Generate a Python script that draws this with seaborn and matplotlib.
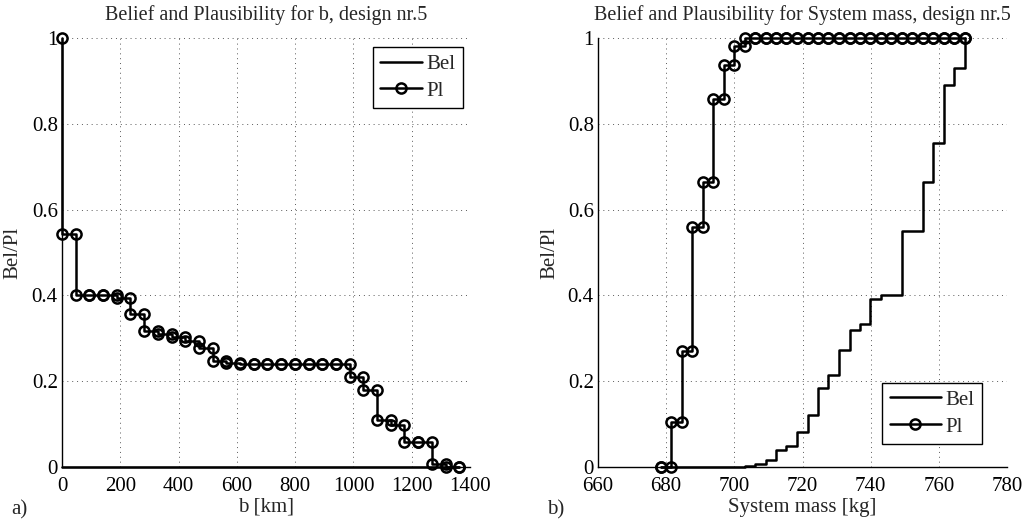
import numpy as np
import pandas as pd
import matplotlib
matplotlib.use("Agg")
import matplotlib.pyplot as plt
import seaborn as sns
from matplotlib.ticker import FormatStrFormatter

# Data: x breakpoints and the staircase levels
# (level[i] -> level[i+1] is the vertical jump at x[i])
b_km = [0, 47, 94, 141, 188, 235, 282, 329, 376, 423, 470, 517, 564, 611, 658,
        705, 752, 799, 846, 893, 940, 987, 1034, 1081, 1128, 1175, 1222, 1269,
        1316, 1362]
pl_b = [1.0, 0.542, 0.402, 0.400, 0.400, 0.394, 0.357, 0.316, 0.309, 0.304,
        0.294, 0.277, 0.246, 0.242, 0.239, 0.239, 0.239, 0.239, 0.239, 0.239,
        0.239, 0.239, 0.210, 0.180, 0.110, 0.097, 0.059, 0.059, 0.006, 0.0, 0.0]
bel_b = [0.0] * 31

mass_kg = [678.4, 681.5, 684.6, 687.6, 690.7, 693.8, 696.9, 699.9, 703.0, 706.1,
           709.2, 712.2, 715.3, 718.4, 721.5, 724.5, 727.6, 730.7, 733.8, 736.8,
           739.9, 743.0, 746.1, 749.1, 752.2, 755.3, 758.4, 761.4, 764.5, 767.6]
pl_mass = [0.0, 0.0, 0.105, 0.270, 0.560, 0.664, 0.857, 0.936, 0.982, 1.0,
           1.0, 1.0, 1.0, 1.0, 1.0, 1.0, 1.0, 1.0, 1.0, 1.0, 1.0, 1.0, 1.0,
           1.0, 1.0, 1.0, 1.0, 1.0, 1.0, 1.0, 1.0]
bel_mass = [0.0, 0.0, 0.0, 0.0, 0.0, 0.0, 0.0, 0.0, 0.001, 0.003, 0.006, 0.017,
            0.039, 0.049, 0.082, 0.122, 0.185, 0.215, 0.273, 0.319, 0.333,
            0.392, 0.402, 0.402, 0.549, 0.549, 0.665, 0.755, 0.891, 0.930, 1.0]


def stairs(x, levels):
    x = np.asarray(x, dtype=float)
    lv = np.asarray(levels, dtype=float)
    xs = np.repeat(x, 2)
    ys = np.column_stack([lv[:-1], lv[1:]]).ravel()
    return pd.DataFrame({'x': xs, 'y': ys})


sns.set_style("white")
plt.rcParams['font.family'] = ['Liberation Serif', 'DejaVu Serif']

fig = plt.figure(figsize=(10.26, 5.27), dpi=100)
ax1 = fig.add_axes([62 / 1026, 1 - 467 / 527, 408 / 1026, 429 / 527])
ax2 = fig.add_axes([598 / 1026, 1 - 467 / 527, 409 / 1026, 429 / 527])

line_kw = dict(color='black', linewidth=1.8, sort=False, estimator=None, clip_on=False)
pl_kw = dict(marker='o', markersize=7.3, markeredgewidth=1.8,
             markerfacecolor='none', markeredgecolor='black')

panels = [
    (ax1, b_km, bel_b, pl_b, 'Belief and Plausibility for b, design nr.5',
     'b [km]', (0, 1400), [0, 200, 400, 600, 800, 1000, 1200, 1400],
     dict(loc='upper right', bbox_to_anchor=(0.983, 0.979), handlelength=2.0),
     'a)', -0.096),
    (ax2, mass_kg, bel_mass, pl_mass, 'Belief and Plausibility for System mass, design nr.5',
     'System mass [kg]', (660, 780), [660, 680, 700, 720, 740, 760, 780],
     dict(loc='lower right', bbox_to_anchor=(0.939, 0.054), handlelength=2.45),
     'b)', -0.095),
]

for ax, x, bel, pl, title, xlabel, xlim, xticks, leg_kw, tag, ylab_x in panels:
    sns.lineplot(data=stairs(x, bel), x='x', y='y', ax=ax, label='Bel', **line_kw)
    sns.lineplot(data=stairs(x, pl), x='x', y='y', ax=ax, label='Pl', **line_kw, **pl_kw)

    ax.set_xlim(*xlim)
    ax.set_ylim(0, 1)
    ax.set_xticks(xticks)
    ax.set_yticks([0, 0.2, 0.4, 0.6, 0.8, 1.0])
    ax.yaxis.set_major_formatter(FormatStrFormatter('%g'))
    ax.tick_params(direction='in', length=4, width=0.8, labelsize=15,
                   color='black', labelcolor='black')
    ax.tick_params(axis='x', pad=7.5)
    ax.tick_params(axis='y', pad=3)
    ax.grid(True, color='0.35', linestyle=(0, (1, 4)), linewidth=0.7)
    for side in ['top', 'right']:
        ax.spines[side].set_visible(False)
    for side in ['left', 'bottom']:
        ax.spines[side].set_color('black')
        ax.spines[side].set_linewidth(1.0)
    ax.set_title(title, fontsize=14.5, pad=13)
    ax.set_xlabel(xlabel, fontsize=15, labelpad=1)
    ax.set_ylabel('Bel/Pl', fontsize=15)
    ax.yaxis.set_label_coords(ylab_x, 0.5)
    ax.text(-0.125, -0.1, tag, transform=ax.transAxes, fontsize=15,
            ha='left', va='center')

    leg = ax.legend(fontsize=15, frameon=True, fancybox=False,
                    borderpad=0.35, labelspacing=0.35, handletextpad=0.25,
                    borderaxespad=0.0, **leg_kw)
    leg.get_frame().set_edgecolor('black')
    leg.get_frame().set_linewidth(1.0)
    leg.get_frame().set_alpha(1)

fig.savefig('out.png', dpi=100)
